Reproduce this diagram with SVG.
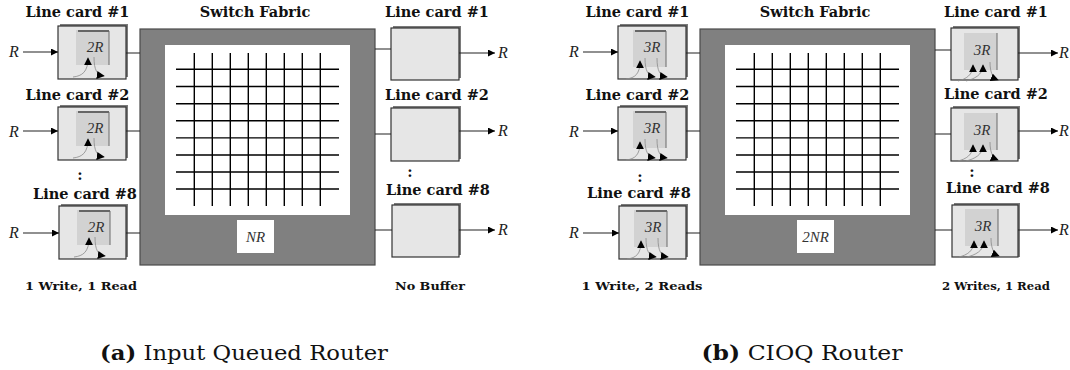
<svg xmlns="http://www.w3.org/2000/svg" width="1070" height="370" viewBox="0 0 1070 370">
<style>
.t{font-family:"DejaVu Serif",serif;font-weight:bold;font-size:14.5px;text-anchor:middle;fill:#111}
.s{font-family:"DejaVu Serif",serif;font-weight:bold;font-size:11px;text-anchor:middle;fill:#111}
.r{font-family:"Liberation Serif",serif;font-style:italic;font-size:16px;fill:#222}
.b{font-family:"Liberation Serif",serif;font-style:italic;font-size:15px;text-anchor:middle;fill:#333}
.cap{font-family:"DejaVu Serif",serif;font-size:20px;text-anchor:middle;fill:#111}
.shadow{fill:#7a7a7a}
.card{fill:#e6e6e6;stroke:#333;stroke-width:1.2}
.buf{fill:#d2d2d2}
.bufedge{fill:none;stroke:#6a6a6a;stroke-width:1}
.buftop{stroke:#666;stroke-width:2}
.fab{fill:#808080;stroke:#4a4a4a;stroke-width:1.2}
.grid{stroke:#000;stroke-width:1.4}
.ln{stroke:#222;stroke-width:1.2;fill:none}
.cv{stroke:#8a8a8a;stroke-width:0.8;fill:none}
</style>
<defs>
<marker id="ah" viewBox="0 0 10 10" refX="10" refY="5" markerWidth="9" markerHeight="7" markerUnits="userSpaceOnUse" orient="auto"><path d="M0,0L10,5L0,10z" fill="#000"/></marker>
<marker id="sm" viewBox="0 0 10 10" refX="9" refY="5" markerWidth="8" markerHeight="8" markerUnits="userSpaceOnUse" orient="auto"><path d="M0,0L10,5L0,10z" fill="#000"/></marker>
<g id="gridpat">
<path class="grid" d="M194.3,53V206M212.3,53V206M230.3,53V206M248.3,53V206M266.3,53V206M284.3,53V206M302.3,53V206M320.3,53V206M176,69.3H339M176,86.5H339M176,103.7H339M176,120.8H339M176,137.9H339M176,155H339M176,172H339M176,189H339"/>
</g>
</defs>

<!-- ================= Panel (a) ================= -->
<g id="fabric-a">
<text class="t" x="255" y="17">Switch Fabric</text>
<rect class="fab" x="140" y="29" width="235" height="236"/>
<rect x="165" y="45" width="185" height="170" fill="#fff"/>
<use href="#gridpat"/>
<rect x="237" y="220" width="37" height="33" fill="#fff"/>
<text class="b" x="255.5" y="242">NR</text>
</g>

<g id="in-a-1">
<text class="t" x="77.5" y="17">Line card #1</text>
<rect class="shadow" x="60" y="24" width="68" height="53"/>
<rect class="card" x="58" y="26" width="68" height="53"/>
<rect class="buf" x="76" y="30" width="33" height="35"/>
<path class="buftop" d="M78,31H109"/><path class="bufedge" d="M109,31V65"/>
<text class="b" x="95" y="52">2R</text>
<path class="cv" d="M73,77C82,76 88,72 88,58" marker-end="url(#sm)"/>
<path class="cv" d="M94,57C94,70 97,75 104,76" marker-end="url(#sm)"/>
</g>
<g id="in-a-2">
<text class="t" x="77.5" y="100">Line card #2</text>
<rect class="shadow" x="60" y="105" width="68" height="53"/>
<rect class="card" x="58" y="107" width="68" height="53"/>
<rect class="buf" x="76" y="111" width="33" height="35"/>
<path class="buftop" d="M78,112H109"/><path class="bufedge" d="M109,112V146"/>
<text class="b" x="95" y="133">2R</text>
<path class="cv" d="M73,158C82,157 88,153 88,139" marker-end="url(#sm)"/>
<path class="cv" d="M94,138C94,151 97,156 104,157" marker-end="url(#sm)"/>
</g>
<text class="t" x="80" y="180">:</text>
<g id="in-a-8">
<text class="t" x="85" y="199">Line card #8</text>
<rect class="shadow" x="61" y="204" width="67" height="53"/>
<rect class="card" x="59" y="206" width="67" height="53"/>
<rect class="buf" x="77" y="210" width="33" height="35"/>
<path class="buftop" d="M79,211H110"/><path class="bufedge" d="M110,211V245"/>
<text class="b" x="96" y="232">2R</text>
<path class="cv" d="M74,257C83,256 89,252 89,238" marker-end="url(#sm)"/>
<path class="cv" d="M95,237C95,250 98,255 105,256" marker-end="url(#sm)"/>
</g>

<g id="out-a-1">
<text class="t" x="437" y="17">Line card #1</text>
<rect class="shadow" x="393" y="26" width="68" height="52"/>
<rect class="card" x="391" y="28" width="68" height="52"/>
</g>
<g id="out-a-2">
<text class="t" x="437" y="100">Line card #2</text>
<rect class="shadow" x="393" y="106" width="68" height="53"/>
<rect class="card" x="391" y="108" width="68" height="53"/>
</g>
<text class="t" x="410" y="177">:</text>
<g id="out-a-8">
<text class="t" x="438" y="195">Line card #8</text>
<rect class="shadow" x="394" y="203" width="67" height="52"/>
<rect class="card" x="392" y="205" width="67" height="52"/>
</g>

<text class="s" x="81" y="290" textLength="112" lengthAdjust="spacingAndGlyphs">1 Write, 1 Read</text>
<text class="s" x="430" y="290" textLength="70" lengthAdjust="spacingAndGlyphs">No Buffer</text>
<text class="cap" x="244" y="360" textLength="288" lengthAdjust="spacingAndGlyphs"><tspan font-weight="bold">(a)</tspan> Input Queued Router</text>

<!-- ================= Panel (b) ================= -->
<g id="fabric-b">
<text class="t" x="815" y="17">Switch Fabric</text>
<rect class="fab" x="700" y="29" width="235" height="236"/>
<rect x="725" y="45" width="185" height="170" fill="#fff"/>
<use href="#gridpat" x="560"/>
<rect x="797" y="220" width="37" height="33" fill="#fff"/>
<text class="b" x="815.5" y="242">2NR</text>
</g>

<g id="in-b-1">
<text class="t" x="637.5" y="17">Line card #1</text>
<rect class="shadow" x="620" y="24" width="68" height="53"/>
<rect class="card" x="618" y="26" width="68" height="53"/>
<rect class="buf" x="633" y="30" width="33" height="37"/>
<path class="buftop" d="M635,31H666"/><path class="bufedge" d="M666,31V67"/>
<text class="b" x="652" y="52">3R</text>
<path class="cv" d="M626,79C635,78 640,74 640,61" marker-end="url(#sm)"/>
<path class="cv" d="M645,58C645,71 648,76 655,77" marker-end="url(#sm)"/>
<path class="cv" d="M657,58C657,71 660,76 667,77" marker-end="url(#sm)"/>
</g>
<g id="in-b-2">
<text class="t" x="637.5" y="100">Line card #2</text>
<rect class="shadow" x="620" y="105" width="68" height="53"/>
<rect class="card" x="618" y="107" width="68" height="53"/>
<rect class="buf" x="633" y="111" width="33" height="37"/>
<path class="buftop" d="M635,112H666"/><path class="bufedge" d="M666,112V148"/>
<text class="b" x="652" y="133">3R</text>
<path class="cv" d="M626,160C635,159 640,155 640,142" marker-end="url(#sm)"/>
<path class="cv" d="M645,139C645,152 648,157 655,158" marker-end="url(#sm)"/>
<path class="cv" d="M657,139C657,152 660,157 667,158" marker-end="url(#sm)"/>
</g>
<text class="t" x="640" y="182">:</text>
<g id="in-b-8">
<text class="t" x="639" y="198">Line card #8</text>
<rect class="shadow" x="621" y="204" width="67" height="53"/>
<rect class="card" x="619" y="206" width="67" height="53"/>
<rect class="buf" x="634" y="210" width="33" height="37"/>
<path class="buftop" d="M636,211H667"/><path class="bufedge" d="M667,211V247"/>
<text class="b" x="653" y="232">3R</text>
<path class="cv" d="M627,259C636,258 641,254 641,241" marker-end="url(#sm)"/>
<path class="cv" d="M646,238C646,251 649,256 656,257" marker-end="url(#sm)"/>
<path class="cv" d="M658,238C658,251 661,256 668,257" marker-end="url(#sm)"/>
</g>

<g id="out-b-1">
<text class="t" x="996" y="17">Line card #1</text>
<rect class="shadow" x="953" y="26" width="67" height="52"/>
<rect class="card" x="951" y="28" width="67" height="52"/>
<rect class="buf" x="964" y="33" width="33" height="37"/>
<path class="bufedge" d="M997,33V70"/>
<text class="b" x="982" y="55">3R</text>
<path class="cv" d="M958,81C966,79 973,75 973,65" marker-end="url(#sm)"/>
<path class="cv" d="M966,81C974,79 983,75 983,65" marker-end="url(#sm)"/>
<path class="cv" d="M990,62C990,73 993,78 998,80" marker-end="url(#sm)"/>
</g>
<g id="out-b-2">
<text class="t" x="996" y="99">Line card #2</text>
<rect class="shadow" x="953" y="106" width="67" height="53"/>
<rect class="card" x="951" y="108" width="67" height="53"/>
<rect class="buf" x="964" y="113" width="33" height="37"/>
<path class="bufedge" d="M997,113V150"/>
<text class="b" x="982" y="135">3R</text>
<path class="cv" d="M958,161C966,159 973,155 973,145" marker-end="url(#sm)"/>
<path class="cv" d="M966,161C974,159 983,155 983,145" marker-end="url(#sm)"/>
<path class="cv" d="M990,142C990,153 993,158 998,160" marker-end="url(#sm)"/>
</g>
<text class="t" x="972" y="177">:</text>
<g id="out-b-8">
<text class="t" x="998" y="193">Line card #8</text>
<rect class="shadow" x="954" y="203" width="66" height="54"/>
<rect class="card" x="952" y="205" width="66" height="52"/>
<rect class="buf" x="965" y="209" width="33" height="37"/>
<path class="bufedge" d="M998,209V246"/>
<text class="b" x="983" y="231">3R</text>
<path class="cv" d="M959,257C967,255 974,251 974,241" marker-end="url(#sm)"/>
<path class="cv" d="M967,257C975,255 984,251 984,241" marker-end="url(#sm)"/>
<path class="cv" d="M991,238C991,249 994,254 999,256" marker-end="url(#sm)"/>
</g>

<text class="s" x="642" y="290" textLength="121" lengthAdjust="spacingAndGlyphs">1 Write, 2 Reads</text>
<text class="s" x="996" y="290" textLength="108" lengthAdjust="spacingAndGlyphs">2 Writes, 1 Read</text>
<text class="cap" x="802" y="360" textLength="201" lengthAdjust="spacingAndGlyphs"><tspan font-weight="bold">(b)</tspan> CIOQ Router</text>

<!-- ================= Connectors ================= -->
<g id="connectors">
<text class="r" x="9" y="57">R</text>
<text class="r" x="9" y="137">R</text>
<text class="r" x="9" y="238">R</text>
<path class="ln" d="M23,52H58" marker-end="url(#ah)"/>
<path class="ln" d="M23,131H58" marker-end="url(#ah)"/>
<path class="ln" d="M23,233H59" marker-end="url(#ah)"/>
<path class="ln" d="M126,53H140M126,131H140M126,233H140"/>
<path class="ln" d="M375,49H391M375,134H391M375,230H392"/>
<path class="ln" d="M459,53H495" marker-end="url(#ah)"/>
<path class="ln" d="M459,131H495" marker-end="url(#ah)"/>
<path class="ln" d="M459,230H495" marker-end="url(#ah)"/>
<text class="r" x="498" y="58">R</text>
<text class="r" x="498" y="136">R</text>
<text class="r" x="498" y="235">R</text>

<text class="r" x="569" y="57">R</text>
<text class="r" x="569" y="137">R</text>
<text class="r" x="569" y="238">R</text>
<path class="ln" d="M583,52H618" marker-end="url(#ah)"/>
<path class="ln" d="M583,131H618" marker-end="url(#ah)"/>
<path class="ln" d="M583,233H619" marker-end="url(#ah)"/>
<path class="ln" d="M686,53H700M686,131H700M686,233H700"/>
<path class="ln" d="M935,50H951M935,134H951M935,230H952"/>
<path class="ln" d="M1018,53H1058" marker-end="url(#ah)"/>
<path class="ln" d="M1018,131H1058" marker-end="url(#ah)"/>
<path class="ln" d="M1018,230H1058" marker-end="url(#ah)"/>
<text class="r" x="1059" y="58">R</text>
<text class="r" x="1059" y="136">R</text>
<text class="r" x="1059" y="235">R</text>
</g>
</svg>
